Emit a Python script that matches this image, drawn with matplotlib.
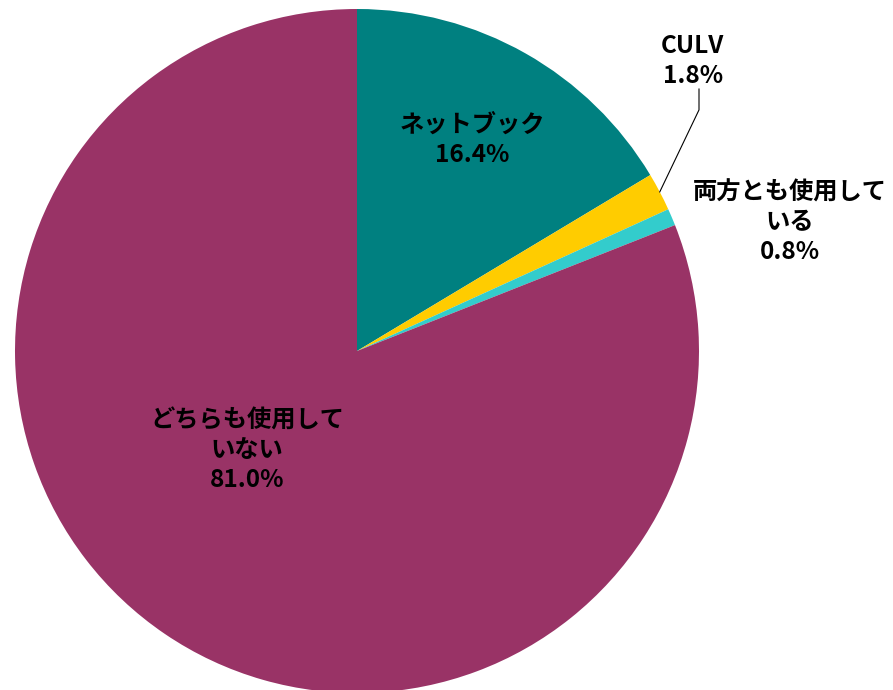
import numpy as np
import matplotlib.pyplot as plt

plt.rcParams['font.family'] = ['Noto Sans CJK JP', 'DejaVu Sans']

# === Data ===
labels = ["ネットブック", "CULV", "両方とも使用して\nいる", "どちらも使用して\nいない"]
shares = [16.4, 1.8, 0.8, 81.0]
colors = ["#008080", "#FFCC00", "#33CCCC", "#993366"]

# label positions in units of the pie radius
label_pos = [(0.336, 0.617), (0.982, 0.848), (1.266, 0.377), (-0.322, -0.289)]

W, H = 893, 690
cx, cy, r = 357, 351, 342

fig = plt.figure(figsize=(W / 100, H / 100), dpi=100)
ax = fig.add_axes([0, 0, 1, 1])

wedges, _ = ax.pie(shares, colors=colors, startangle=90, counterclock=False,
                   radius=1.0, wedgeprops=dict(linewidth=0))

ax.set_xlim(-cx / r, (W - cx) / r)
ax.set_ylim(-(H - cy) / r, cy / r)
ax.set_aspect('auto')
ax.axis('off')

for lab, val, (x, y) in zip(labels, shares, label_pos):
    ax.text(x, y, f"{lab}\n{val:.1f}%", ha='center', va='center',
            fontsize=17.5, fontweight='bold', linespacing=1.3, color='black')

# leader line for CULV
w = wedges[1]
mid = np.deg2rad((w.theta1 + w.theta2) / 2)
ex, ey = np.cos(mid), np.sin(mid)
ax.plot([1.0, 1.0, ex], [0.766, 0.705, ey], color='black', linewidth=0.8)

fig.savefig("out.png", dpi=100)
